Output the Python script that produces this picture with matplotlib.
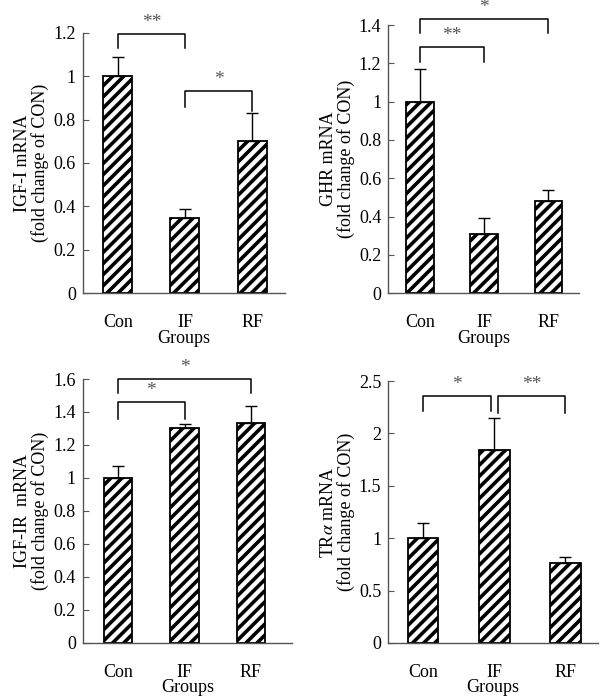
import matplotlib
matplotlib.use("Agg")
import matplotlib.pyplot as plt
import numpy as np

plt.rcParams['font.family'] = ['Liberation Serif', 'DejaVu Serif']
plt.rcParams['mathtext.fontset'] = 'stix'
plt.rcParams['hatch.linewidth'] = 2.6

groups = ["Con", "IF", "RF"]

igf1_mean = [1.0, 0.345, 0.70]
igf1_err = [0.09, 0.045, 0.13]

ghr_mean = [1.0, 0.31, 0.48]
ghr_err = [0.17, 0.085, 0.06]

igf1r_mean = [1.0, 1.30, 1.335]
igf1r_err = [0.075, 0.03, 0.10]

tra_mean = [1.0, 1.84, 0.76]
tra_err = [0.14, 0.31, 0.06]

# (x_left, x_right, top, left leg bottom, right leg bottom, label)
igf1_sig = [(0, 1, 1.195, 1.13, 1.13, "**"), (1, 2, 0.93, 0.86, 0.84, "*")]
ghr_sig = [(0, 2, 1.43, 1.36, 1.36, "*"), (0, 1, 1.285, 1.21, 1.21, "**")]
igf1r_sig = [(0, 2, 1.6, 1.515, 1.515, "*"), (0, 1, 1.46, 1.36, 1.36, "*")]
tra_sig = [(0, 0.95, 2.36, 2.21, 2.21, "*"), (1.05, 2, 2.36, 2.2, 2.2, "**")]

panels = [
    dict(mean=igf1_mean, err=igf1_err, sig=igf1_sig, ylabel="IGF-I mRNA\n(fold change of CON)",
         ymax=1.2, step=0.2, pos=[0.138, 0.580, 0.337, 0.373], xlim=(-0.52, 2.49)),
    dict(mean=ghr_mean, err=ghr_err, sig=ghr_sig, ylabel="GHR mRNA\n(fold change of CON)",
         ymax=1.4, step=0.2, pos=[0.647, 0.580, 0.318, 0.384], xlim=(-0.5, 2.48)),
    dict(mean=igf1r_mean, err=igf1r_err, sig=igf1r_sig, ylabel="IGF-IR  mRNA\n(fold change of CON)",
         ymax=1.6, step=0.2, pos=[0.138, 0.079, 0.349, 0.378], xlim=(-0.53, 2.62)),
    dict(mean=tra_mean, err=tra_err, sig=tra_sig, ylabel="TR$\\alpha$ mRNA\n(fold change of CON)",
         ymax=2.5, step=0.5, pos=[0.647, 0.079, 0.350, 0.375], xlim=(-0.49, 2.46)),
]

fig = plt.figure(figsize=(6.0, 6.98), dpi=100)

for p in panels:
    ax = fig.add_axes(p["pos"])
    x = np.arange(len(groups))
    ax.bar(x, p["mean"], width=0.43, color="white", edgecolor="black",
           hatch="///", linewidth=1.3, zorder=2)
    ax.errorbar(x, p["mean"], yerr=[np.zeros(3), p["err"]], fmt="none",
                ecolor="black", elinewidth=1.0, capsize=4, capthick=1.0, zorder=3)
    ax.set_ylim(0, p["ymax"])
    ax.set_xlim(*p["xlim"])
    ticks = np.arange(0, p["ymax"] + 1e-9, p["step"])
    ax.set_yticks(ticks)
    ax.set_yticklabels(["{:g}".format(round(t, 1)) for t in ticks], fontsize=13)
    ax.set_xticks(x)
    ax.set_xticklabels(groups, fontsize=13)
    ax.tick_params(axis="x", length=0, pad=15)
    ax.tick_params(axis="y", length=4, color="#555555", direction="in", pad=5)
    for s in ["top", "right"]:
        ax.spines[s].set_visible(False)
    for s in ["left", "bottom"]:
        ax.spines[s].set_color("#555555")
        ax.spines[s].set_linewidth(1.0)
    ax.set_xlabel("Groups", fontsize=13, labelpad=-1)
    ax.set_ylabel(p["ylabel"], fontsize=13, linespacing=1.0, labelpad=3)

    for x0, x1, top, b0, b1, lab in p["sig"]:
        ax.plot([x0, x0, x1, x1], [b0, top, top, b1], color="black", lw=1.1, clip_on=False)
        ax.text((x0 + x1) / 2, top + p["ymax"] * 0.012, lab, ha="center", va="bottom",
                fontsize=14, color="#555555", clip_on=False)

fig.savefig("out.png", dpi=100)
